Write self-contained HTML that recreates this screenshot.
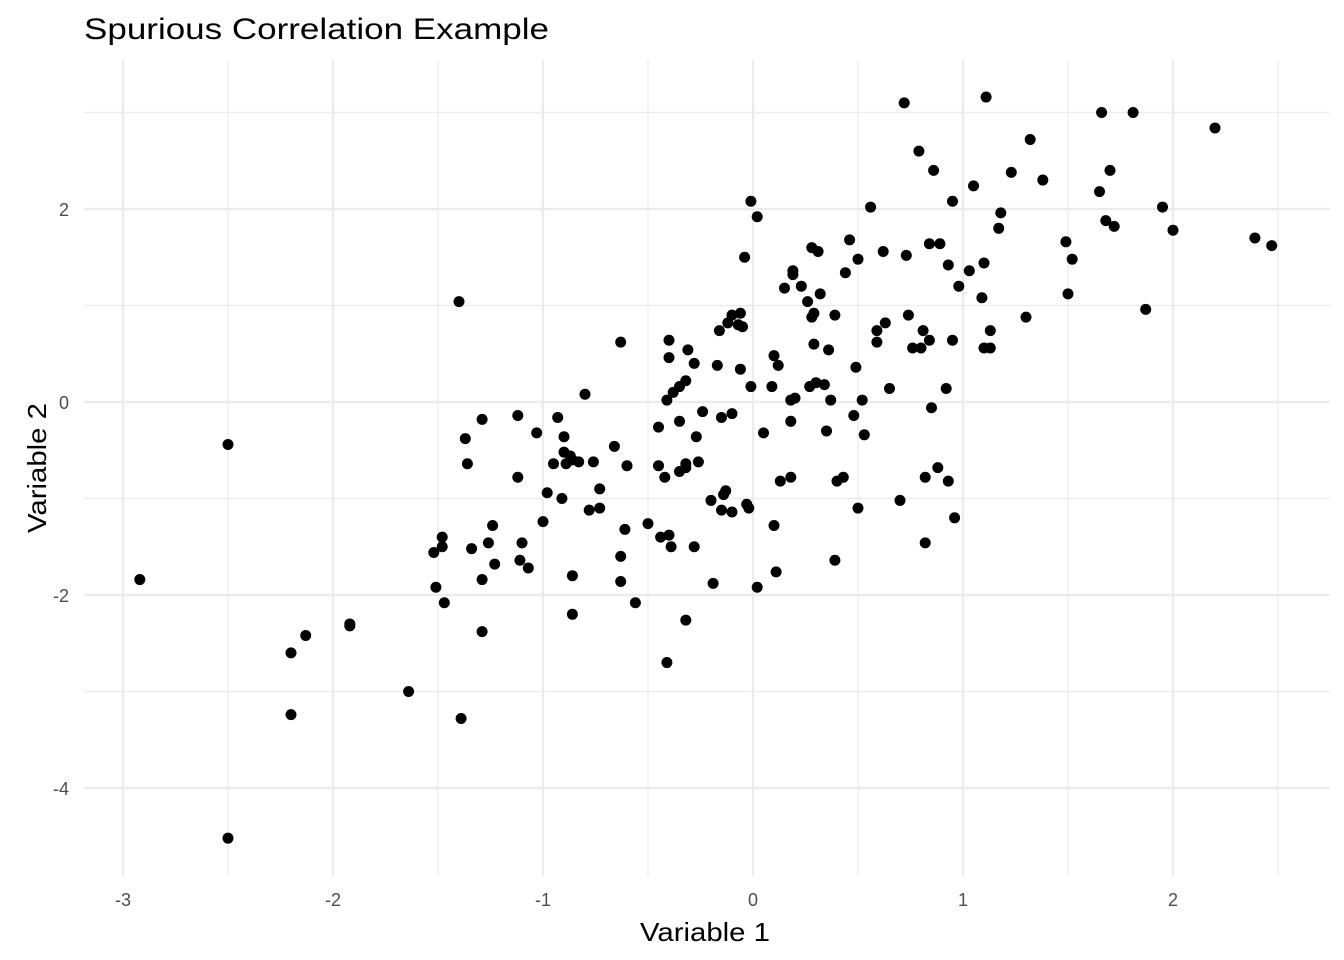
<!DOCTYPE html>
<html><head><meta charset="utf-8"><style>
html,body{margin:0;padding:0;background:#fff;}
svg{display:block;font-family:"Liberation Sans",Arial,sans-serif;}
</style></head><body>
<svg id="chart" width="1344" height="960" viewBox="0 0 1344 960">
<text x="84" y="39" font-size="30" textLength="465" lengthAdjust="spacingAndGlyphs" fill="#000">Spurious Correlation Example</text>
<g id="grid"></g>
<g id="ticks"></g>
<g id="points"></g>
<text x="640" y="941" font-size="26" textLength="130" lengthAdjust="spacingAndGlyphs" fill="#000">Variable 1</text>
<text transform="translate(46,468) rotate(-90)" font-size="26" textLength="130" lengthAdjust="spacingAndGlyphs" text-anchor="middle" fill="#000">Variable 2</text>
</svg>
<script>
const xMajor=[-3,-2,-1,0,1,2];
const xMinor=[-2.5,-1.5,-0.5,0.5,1.5,2.5];
const yMajor=[-4,-2,0,2];
const yMinor=[-3,-1,1,3];
const xs=[-2.92,-2.50,-2.50,-2.20,-2.20,-2.13,-1.92,-1.92,-1.64,-1.40,-1.39,-1.37,-1.36,-1.34,-1.29,-1.29,-1.29,-1.26,-1.24,-1.23,-1.52,-1.51,-1.48,-1.48,-1.47,-1.12,-1.12,-1.11,-1.10,-1.07,-1.03,-1.00,-0.98,-0.95,-0.93,-0.91,-0.90,-0.90,-0.89,-0.87,-0.86,-0.86,-0.86,-0.83,-0.80,-0.78,-0.76,-0.73,-0.73,-0.66,-0.63,-0.63,-0.63,-0.61,-0.60,-0.56,-0.50,-0.45,-0.45,-0.44,-0.42,-0.41,-0.40,-0.40,-0.40,-0.41,-0.39,-0.38,-0.35,-0.35,-0.35,-0.32,-0.32,-0.32,-0.32,-0.31,-0.28,-0.28,-0.27,-0.26,-0.24,-0.20,-0.19,-0.17,-0.16,-0.15,-0.15,-0.14,-0.13,-0.12,-0.10,-0.10,-0.10,-0.07,-0.06,-0.06,-0.05,-0.04,-0.03,-0.02,-0.01,-0.01,0.02,0.02,0.05,0.09,0.10,0.10,0.11,0.12,0.13,0.15,0.18,0.18,0.18,0.19,0.19,0.20,0.23,0.26,0.27,0.28,0.28,0.29,0.29,0.31,0.30,0.32,0.34,0.35,0.36,0.37,0.39,0.39,0.40,0.43,0.44,0.46,0.48,0.49,0.50,0.50,0.52,0.53,0.56,0.59,0.59,0.62,0.63,0.65,0.70,0.72,0.73,0.74,0.76,0.79,0.80,0.81,0.82,0.82,0.84,0.84,0.85,0.86,0.88,0.89,0.92,0.93,0.93,0.95,0.95,0.96,0.98,1.05,1.03,1.09,1.10,1.11,1.10,1.13,1.13,1.17,1.18,1.23,1.30,1.32,1.38,1.49,1.50,1.52,1.65,1.66,1.68,1.70,1.72,1.81,1.87,1.95,2.00,2.20,2.39,2.47];
const ys=[-1.84,-0.44,-4.52,-2.60,-3.24,-2.42,-2.30,-2.32,-3.00,1.04,-3.28,-0.38,-0.64,-1.52,-0.18,-1.84,-2.38,-1.46,-1.28,-1.68,-1.56,-1.92,-1.50,-1.40,-2.08,-0.14,-0.78,-1.64,-1.46,-1.72,-0.32,-1.24,-0.94,-0.64,-0.16,-1.00,-0.52,-0.36,-0.64,-0.56,-1.80,-2.20,-0.60,-0.62,0.08,-1.12,-0.62,-1.10,-0.90,-0.46,-1.60,0.62,-1.86,-1.32,-0.66,-2.08,-1.26,-0.26,-0.66,-1.40,-0.78,0.02,0.64,0.46,-1.38,-2.70,-1.50,0.10,0.16,-0.20,-0.72,-0.68,0.22,-2.26,-0.64,0.54,-1.50,0.40,-0.36,-0.62,-0.10,-1.02,-1.88,0.38,0.74,-0.16,-1.12,-0.96,-0.92,0.82,-0.12,-1.14,0.90,0.80,0.34,0.92,0.78,1.50,-1.06,-1.10,0.16,2.08,1.92,-1.92,-0.32,0.16,-1.28,0.48,-1.76,0.38,-0.82,1.18,0.02,-0.20,-0.78,1.32,1.36,0.04,1.20,1.04,0.16,1.60,0.88,0.60,0.92,1.56,0.20,1.12,0.18,-0.30,0.54,0.02,-1.64,0.90,-0.82,-0.78,1.34,1.68,-0.14,0.36,1.48,-1.10,0.02,-0.34,2.02,0.74,0.62,1.56,0.82,0.14,-1.02,3.10,1.52,0.90,0.56,2.60,0.56,0.74,-0.78,-1.46,0.64,1.64,-0.06,2.40,-0.68,1.64,0.14,1.42,-0.82,2.08,0.64,-1.20,1.20,2.24,1.36,1.08,1.44,3.16,0.56,0.56,0.74,1.80,1.96,2.38,0.88,2.72,2.30,1.66,1.12,1.48,2.18,3.00,1.88,2.40,1.82,3.00,0.96,2.02,1.78,2.84,1.70,1.62];
const NS="http://www.w3.org/2000/svg";
const L=84,R=1330,T=60,B=876;
const sx=v=>753+210*v;
const sy=v=>402-96.5*v;
const grid=document.getElementById('grid'),ticks=document.getElementById('ticks'),pts=document.getElementById('points');
function line(x1,y1,x2,y2,w,name){const l=document.createElementNS(NS,'line');l.setAttribute('x1',x1);l.setAttribute('y1',y1);l.setAttribute('x2',x2);l.setAttribute('y2',y2);l.setAttribute('stroke','#ebebeb');l.setAttribute('stroke-width',w);


grid.appendChild(l);}
xMinor.forEach(v=>line(sx(v),T,sx(v),B,1.2,'x-minor-gridline'));
yMinor.forEach(v=>line(L,sy(v),R,sy(v),1.2,'y-minor-gridline'));
xMajor.forEach(v=>line(sx(v),T,sx(v),B,2.2,'x-major-gridline'));
yMajor.forEach(v=>line(L,sy(v),R,sy(v),2.2,'y-major-gridline'));
function txt(x,y,s,anchor,name){const t=document.createElementNS(NS,'text');t.setAttribute('x',x);t.setAttribute('y',y);t.setAttribute('font-size','18');t.setAttribute('fill','#4d4d4d');t.setAttribute('text-anchor',anchor);t.textContent=s;


ticks.appendChild(t);}
xMajor.forEach(v=>txt(sx(v),906,String(v),'middle','x-tick-label'));
yMajor.forEach(v=>txt(69,sy(v)+7,String(v),'end','y-tick-label'));
xs.forEach((v,i)=>{const c=document.createElementNS(NS,'circle');c.setAttribute('cx',sx(v));c.setAttribute('cy',sy(ys[i]));c.setAttribute('r',5.5);c.setAttribute('fill','#000');


pts.appendChild(c);});
</script>
</body></html>
